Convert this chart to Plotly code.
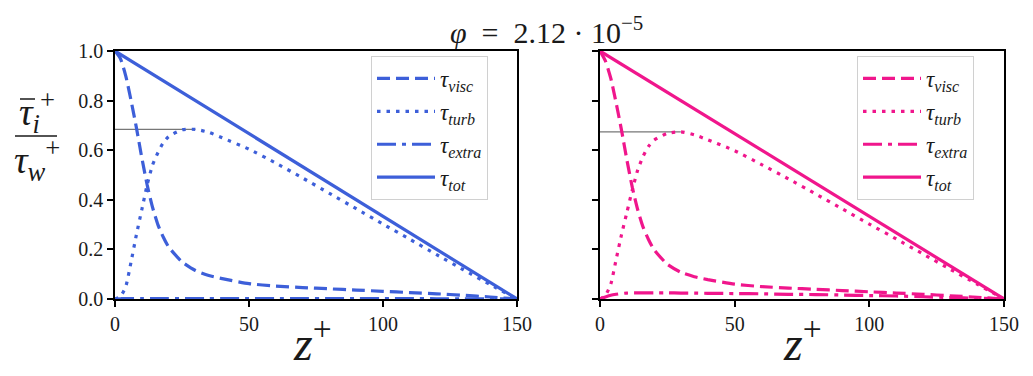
import plotly.graph_objects as go

# Wall-normal coordinate (wall units)
z_plus = [0, 2, 4, 6, 8, 10, 12, 14, 16, 18, 20, 25, 30, 35, 40, 50, 60, 70,
          80, 90, 100, 110, 120, 130, 140, 150]

# Left panel (blue)
visc_a = [1.0, 0.97, 0.90, 0.80, 0.69, 0.57, 0.46, 0.37, 0.30, 0.25, 0.21, 0.15,
          0.115, 0.095, 0.082, 0.062, 0.052, 0.046, 0.041, 0.036, 0.031, 0.026,
          0.021, 0.015, 0.008, 0.0]
turb_a = [0.0, 0.01, 0.05, 0.15, 0.26, 0.36, 0.46, 0.54, 0.59, 0.63, 0.655, 0.682,
          0.684, 0.672, 0.650, 0.604, 0.548, 0.488, 0.426, 0.364, 0.302, 0.241,
          0.179, 0.118, 0.058, 0.0]
extra_a = [0.0, 0.001, 0.002, 0.002, 0.002, 0.002, 0.002, 0.002, 0.002, 0.002,
           0.002, 0.002, 0.002, 0.002, 0.002, 0.002, 0.002, 0.002, 0.002, 0.002,
           0.002, 0.002, 0.001, 0.001, 0.001, 0.0]

# Right panel (pink)
visc_b = [1.0, 0.96, 0.89, 0.79, 0.68, 0.56, 0.45, 0.36, 0.29, 0.24, 0.20, 0.14,
          0.108, 0.090, 0.078, 0.060, 0.050, 0.044, 0.039, 0.034, 0.029, 0.024,
          0.019, 0.013, 0.007, 0.0]
turb_b = [0.0, 0.015, 0.06, 0.16, 0.26, 0.35, 0.44, 0.52, 0.575, 0.615, 0.64, 0.668,
          0.674, 0.662, 0.642, 0.598, 0.542, 0.484, 0.424, 0.363, 0.302, 0.242,
          0.181, 0.120, 0.060, 0.0]
extra_b = [0.0, 0.008, 0.015, 0.019, 0.022, 0.024, 0.025, 0.025, 0.025, 0.025,
           0.025, 0.025, 0.024, 0.024, 0.023, 0.022, 0.021, 0.019, 0.018, 0.016,
           0.014, 0.012, 0.009, 0.006, 0.003, 0.0]

# Total stress: linear from the wall to the channel centre
tot_z = [0, 150]
tot_v = [1.0, 0.0]

x_ticks = [0, 50, 100, 150]
y_ticks = [0.0, 0.2, 0.4, 0.6, 0.8, 1.0]
title_text = "<i>φ</i>  =  2.12 · 10<sup>−5</sup>"

BLUE = "#3d5fd9"
PINK = "#f0168c"
FONT = "'Liberation Serif', 'Times New Roman', Times, serif"
INK = "#1a1a1a"

names = ["<i>τ<sub>visc</sub></i>", "<i>τ<sub>turb</sub></i>",
         "<i>τ<sub>extra</sub></i>", "<i>τ<sub>tot</sub></i>"]
dashes = ["13px,6px", "3.5px,6px", "19px,6px,4px,6px", "solid"]

fig = go.Figure()

panels = [
    (BLUE, visc_a, turb_a, extra_a, "x", "y", "legend"),
    (PINK, visc_b, turb_b, extra_b, "x2", "y2", "legend2"),
]

for color, visc, turb, extra, xa, ya, lg in panels:
    # thin grey marker of the turbulent-stress peak
    peak = max(turb)
    zpk = z_plus[turb.index(peak)]
    fig.add_trace(go.Scatter(x=[0, zpk], y=[peak, peak], mode="lines",
                             line=dict(color="#777777", width=1.2),
                             showlegend=False, xaxis=xa, yaxis=ya,
                             hoverinfo="skip"))
    series = [(z_plus, visc), (z_plus, turb), (z_plus, extra), (tot_z, tot_v)]
    for i, (xs, ys) in enumerate(series):
        fig.add_trace(go.Scatter(
            x=xs, y=ys, mode="lines", name=names[i],
            line=dict(color=color, width=3.2, dash=dashes[i], shape="spline",
                      smoothing=0.6),
            xaxis=xa, yaxis=ya, legend=lg, legendgroup=f"{lg}{i}"))

W, H = 1033, 376
left_dom = [115 / W, 517 / W]
right_dom = [600 / W, 1004 / W]
y_dom = [1 - 299 / H, 1 - 51 / H]

axis_common = dict(
    showline=True, linecolor="black", linewidth=1.5, mirror=True,
    ticks="outside", ticklen=6, tickwidth=1.5, tickcolor="black",
    showgrid=False, zeroline=False, automargin=False,
    tickfont=dict(family=FONT, size=20, color=INK),
)

legend_common = dict(
    bgcolor="rgba(255,255,255,0.85)", bordercolor="#d0d0d0", borderwidth=1,
    font=dict(family=FONT, size=23, color=INK),
    itemwidth=58, tracegroupgap=0, xanchor="left", yanchor="top",
)

fig.update_layout(
    width=W, height=H, autosize=False,
    margin=dict(l=0, r=0, t=0, b=0, pad=0),
    paper_bgcolor="white", plot_bgcolor="white",
    showlegend=True,
    xaxis=dict(domain=left_dom, range=[0, 150], tickvals=x_ticks,
               anchor="y", **axis_common),
    yaxis=dict(domain=y_dom, range=[0, 1], tickvals=y_ticks,
               tickformat=".1f", anchor="x", **axis_common),
    xaxis2=dict(domain=right_dom, range=[0, 150], tickvals=x_ticks,
                anchor="y2", **axis_common),
    yaxis2=dict(domain=y_dom, range=[0, 1], tickvals=y_ticks,
                showticklabels=False, anchor="x2", **axis_common),
    legend=dict(x=371 / W, y=1 - 56 / H, **legend_common),
    legend2=dict(x=857 / W, y=1 - 56 / H, **legend_common),
)


def label(text, px, py, size):
    fig.add_annotation(text=text, x=px / W, y=1 - py / H, xref="paper",
                       yref="paper", xanchor="center", yanchor="middle",
                       showarrow=False,
                       font=dict(family=FONT, size=size, color=INK))


# figure title
label(title_text, 546, 30, 30)

# x-axis labels
for xc in (312, 802):
    label("<i>z</i><sup>+</sup>", xc, 340, 48)

# y-axis label as a stacked fraction
label("<i>τ</i><sub><i>i</i></sub><sup>+</sup>", 37, 112, 38)
label("<i>τ</i><sub><i>w</i></sub><sup>+</sup>", 37, 160, 38)
fig.add_shape(type="line", xref="paper", yref="paper",  # bar over tau
              x0=20 / W, x1=35 / W, y0=1 - 99 / H, y1=1 - 99 / H,
              line=dict(color=INK, width=1.5))
fig.add_shape(type="line", xref="paper", yref="paper",  # fraction bar
              x0=15 / W, x1=57 / W, y0=1 - 136 / H, y1=1 - 136 / H,
              line=dict(color=INK, width=1.5))

fig.write_html("out.html")
